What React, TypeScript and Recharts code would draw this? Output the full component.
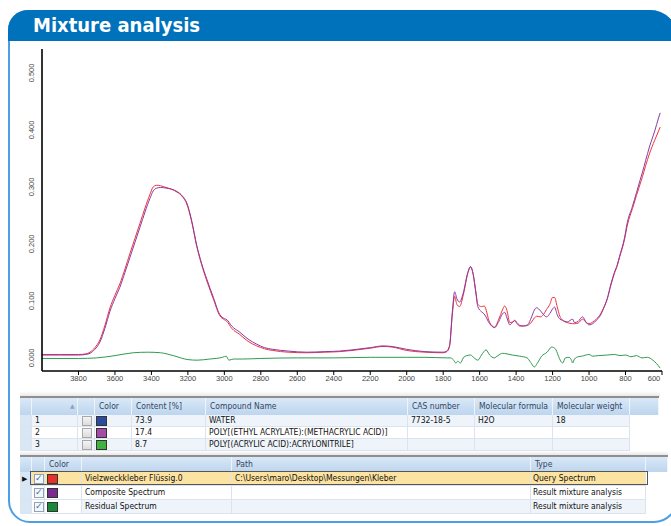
import React from 'react';
import { LineChart, Line, XAxis, YAxis } from 'recharts';

// ---------- DATA ----------
const mainWavenumbers = [4000,3900,3800,3760,3737,3710,3682,3655,3627,3600,3573,3545,3518,3490,3463,3435,3408,3390,3370,3350,3320,3290,3260,3230,3206,3180,3151,3125,3096,3060,3025,3000,2986,2960,2915,2870,2822,2780,2734,2650,2548,2450,2367,2300,2200,2130,2080,2000,1900,1800,1780,1765,1750,1737,1725,1710,1690,1665,1650,1635,1620,1610,1590,1575,1545,1518,1495,1475,1463,1450,1435,1420,1408,1395,1380,1360,1337,1315,1300,1288,1265,1250,1233,1215,1200,1189,1175,1160,1145,1120,1090,1080,1060,1036,1015,1000,980,960,943,920,900,880,861,845,833,806,790,762,740,720,707,690,669,640,619,610];

const compositeValues = [0.005,0.005,0.005,0.006,0.008,0.015,0.028,0.052,0.082,0.104,0.124,0.150,0.176,0.203,0.229,0.256,0.280,0.293,0.298,0.299,0.298,0.296,0.292,0.284,0.272,0.242,0.197,0.166,0.138,0.106,0.076,0.069,0.067,0.056,0.045,0.033,0.024,0.018,0.015,0.012,0.010,0.011,0.012,0.014,0.018,0.021,0.020,0.015,0.011,0.010,0.012,0.022,0.080,0.116,0.104,0.098,0.114,0.150,0.160,0.146,0.112,0.090,0.081,0.077,0.060,0.053,0.064,0.077,0.080,0.070,0.058,0.062,0.066,0.060,0.056,0.056,0.058,0.072,0.084,0.088,0.082,0.076,0.072,0.078,0.086,0.089,0.076,0.068,0.066,0.063,0.068,0.062,0.064,0.072,0.062,0.058,0.060,0.066,0.072,0.087,0.104,0.130,0.150,0.164,0.178,0.210,0.238,0.266,0.290,0.312,0.326,0.346,0.370,0.398,0.421,0.430];

const queryValues = [0.006,0.006,0.006,0.007,0.010,0.018,0.032,0.057,0.088,0.110,0.130,0.156,0.183,0.210,0.236,0.263,0.287,0.300,0.303,0.302,0.299,0.296,0.291,0.283,0.270,0.240,0.195,0.164,0.135,0.103,0.074,0.067,0.064,0.052,0.041,0.029,0.021,0.016,0.013,0.010,0.009,0.010,0.011,0.013,0.017,0.020,0.019,0.013,0.010,0.009,0.011,0.020,0.075,0.108,0.094,0.090,0.110,0.148,0.160,0.146,0.114,0.094,0.090,0.091,0.062,0.054,0.068,0.084,0.091,0.083,0.062,0.063,0.065,0.062,0.057,0.056,0.057,0.063,0.070,0.073,0.072,0.076,0.085,0.094,0.106,0.106,0.090,0.073,0.066,0.062,0.060,0.060,0.061,0.068,0.062,0.060,0.063,0.068,0.074,0.088,0.104,0.128,0.148,0.162,0.176,0.207,0.233,0.262,0.285,0.305,0.318,0.337,0.358,0.382,0.398,0.405];

const residualWavenumbers = [4000,3800,3700,3600,3500,3420,3350,3280,3200,3150,3080,3010,2990,2975,2950,2900,2800,2600,2400,2200,2000,1900,1780,1760,1745,1730,1720,1705,1690,1670,1650,1630,1610,1590,1565,1545,1520,1500,1475,1450,1420,1380,1340,1320,1300,1285,1260,1230,1205,1185,1170,1155,1145,1130,1110,1095,1090,1080,1060,1040,1000,980,950,900,860,830,800,770,740,710,680,650,630,610];
const residualValues = [-0.001,-0.001,0.000,0.004,0.009,0.010,0.009,0.004,-0.003,-0.004,-0.002,0.001,0.003,-0.004,-0.002,-0.002,-0.001,0.000,0.000,0.001,0.001,0.001,0.000,0.000,-0.003,-0.009,-0.006,-0.009,0.000,0.004,0.005,0.000,-0.004,0.005,0.014,0.005,0.000,0.004,0.008,0.007,0.005,0.003,0.000,-0.008,-0.016,-0.010,0.003,0.010,0.019,0.016,0.005,-0.006,-0.009,0.000,0.001,-0.005,-0.009,-0.002,0.002,0.003,0.006,0.003,0.004,0.005,0.006,0.004,0.005,0.002,0.004,0.000,0.001,-0.004,-0.010,-0.018];

const xTicks = [3800,3600,3400,3200,3000,2800,2600,2400,2200,2000,1800,1600,1400,1200,1000,800,600];
const yTicks = [0, 0.1, 0.2, 0.3, 0.4, 0.5];

const compoundRows = [
  { no: '1', color: '#2b4b9e', content: '73.9', name: 'WATER', cas: '7732-18-5', formula: 'H2O', weight: '18' },
  { no: '2', color: '#a64ca6', content: '17.4', name: 'POLY[(ETHYL ACRYLATE):(METHACRYLIC ACID)]', cas: '', formula: '', weight: '' },
  { no: '3', color: '#3db33d', content: '8.7', name: 'POLY[(ACRYLIC ACID):ACRYLONITRILE]', cas: '', formula: '', weight: '' },
];

const spectrumRows = [
  { color: '#e8302a', name: 'Vielzweckkleber Flüssig.0', path: 'C:\\Users\\maro\\Desktop\\Messungen\\Kleber', type: 'Query Spectrum' },
  { color: '#7b2a8f', name: 'Composite Spectrum', path: '', type: 'Result mixture analysis' },
  { color: '#1a8a3a', name: 'Residual Spectrum', path: '', type: 'Result mixture analysis' },
];

const querySeries = mainWavenumbers.map((wn, i) => ({ wn, v: queryValues[i] }));
const compositeSeries = mainWavenumbers.map((wn, i) => ({ wn, v: compositeValues[i] }));
const residualSeries = residualWavenumbers.map((wn, i) => ({ wn, v: residualValues[i] }));

const FONT = '"Liberation Sans Narrow", "Arial Narrow", "DejaVu Sans Condensed", "Liberation Sans", sans-serif';

const XTick = (props: any) => {
  const { x, y, payload } = props;
  const dx = payload.value === 600 ? -8 : 0;
  return (
    <text x={x + dx} y={y} dy="0.71em" textAnchor="middle" fontSize={7.5} fill="#444" fontFamily='"Liberation Sans", Arial, sans-serif'>
      {payload.value}
    </text>
  );
};

const YTick = (props: any) => {
  const { x, y, payload } = props;
  const tx = x - 2;
  return (
    <text x={tx} y={y} textAnchor="middle" fontSize={7.5} fill="#444" fontFamily='"Liberation Sans", Arial, sans-serif'
      transform={`rotate(-90 ${tx} ${y})`}>
      {payload.value.toFixed(3)}
    </text>
  );
};

type Col = { x: number; w: number; label: string };

const headerBg = 'linear-gradient(#d9e8f7, #bdd5ee)';
const cellText: React.CSSProperties = { fontFamily: FONT, fontSize: 8.5, color: '#111', whiteSpace: 'nowrap', overflow: 'hidden' };

const CheckBox = ({ checked }: { checked: boolean }) => (
  <div style={{ width: 8, height: 8, border: `1px solid ${checked ? '#8ea4bd' : '#a8a8a8'}`, background: checked ? '#f4f8fc' : 'linear-gradient(#f4f4f4,#dcdcdc)', position: 'relative' }}>
    {checked && <div style={{ position: 'absolute', left: 0, top: -3, fontSize: 9, color: '#4d6c9c', fontFamily: 'DejaVu Sans, sans-serif', lineHeight: '12px' }}>✓</div>}
  </div>
);

const Swatch = ({ color }: { color: string }) => (
  <div style={{ width: 9, height: 8, background: color, border: '1px solid #333' }} />
);

function Header({ cols, top, h }: { cols: Col[]; top: number; h: number }) {
  return (
    <>
      {cols.map((c, i) => (
        <div key={i} style={{ position: 'absolute', left: c.x, top, width: c.w - 1, height: h, background: headerBg, borderRight: '1px solid #eef4fb', ...cellText, color: '#33465e', lineHeight: `${h}px`, paddingLeft: 0 }}>
          <span style={{ paddingLeft: 4 }}>{c.label}</span>
        </div>
      ))}
    </>
  );
}

export default function App() {
  const t1Cols: Col[] = [
    { x: 20, w: 12, label: '' },
    { x: 32, w: 46, label: '' },
    { x: 78, w: 17, label: '' },
    { x: 95, w: 37, label: 'Color' },
    { x: 132, w: 74, label: 'Content [%]' },
    { x: 206, w: 202, label: 'Compound Name' },
    { x: 408, w: 67, label: 'CAS number' },
    { x: 475, w: 78, label: 'Molecular formula' },
    { x: 553, w: 77, label: 'Molecular weight' },
    { x: 630, w: 29, label: '' },
  ];
  const t2Cols: Col[] = [
    { x: 20, w: 12, label: '' },
    { x: 32, w: 13, label: '' },
    { x: 45, w: 37, label: 'Color' },
    { x: 82, w: 150, label: '' },
    { x: 232, w: 299, label: 'Path' },
    { x: 531, w: 115, label: 'Type' },
    { x: 646, w: 22, label: '' },
  ];
  const t1Top = 398, t1H = 17, rH1 = 12;
  const t2Top = 457, t2H = 15, rH2 = 14;

  return (
    <div style={{ position: 'absolute', left: 0, top: 0, width: 671, height: 526, overflow: 'hidden', background: '#fff' }}>
      {/* panel frame */}
      <div style={{ position: 'absolute', left: 8, top: 10, width: 670, height: 513, border: '2px solid #4d9fe3', borderRadius: '20px 28px 24px 22px', boxSizing: 'border-box' }} />
      {/* banner */}
      <div style={{ position: 'absolute', left: 8, top: 10, width: 670, height: 31, background: '#0071bb', borderRadius: '20px 28px 0 0' }}>
        <div style={{ position: 'absolute', left: 25, top: 2, fontFamily: FONT, fontWeight: 700, fontSize: 20, color: '#fff', letterSpacing: 0, lineHeight: '26px' }}>Mixture analysis</div>
      </div>

      {/* chart */}
      <div style={{ position: 'absolute', left: 0, top: 40 }}>
        <LineChart width={671} height={345} margin={{ top: 9, right: 9, left: 12, bottom: 0 }}>
          <XAxis type="number" dataKey="wn" domain={[600, 4000]} reversed ticks={xTicks} allowDataOverflow
            height={14} tick={<XTick />} tickSize={4} tickMargin={1} interval={0}
            axisLine={{ stroke: '#000', strokeWidth: 1.6 }} tickLine={{ stroke: '#000' }} />
          <YAxis type="number" dataKey="v" domain={[-0.023, 0.542]} ticks={yTicks} allowDataOverflow
            width={30} tick={<YTick />} tickLine={false} tickSize={3} tickMargin={3} interval={0}
            axisLine={{ stroke: '#000', strokeWidth: 1.6 }} />
          <Line data={querySeries} dataKey="v" type="monotone" stroke="#f0323c" strokeWidth={1} dot={false} isAnimationActive={false} />
          <Line data={compositeSeries} dataKey="v" type="monotone" stroke="#8a3aa2" strokeWidth={1} dot={false} isAnimationActive={false} />
          <Line data={residualSeries} dataKey="v" type="monotone" stroke="#2f9a50" strokeWidth={1} dot={false} isAnimationActive={false} />
        </LineChart>
      </div>

      {/* table 1 */}
      <div style={{ position: 'absolute', left: 20, top: 391, width: 640, height: 6, background: 'linear-gradient(#ffffff,#e6e6e6)' }} />
      <div style={{ position: 'absolute', left: 20, top: t1Top - 2, width: 639, height: 2, background: '#8f8f8f' }} />
      <Header cols={t1Cols} top={t1Top} h={t1H} />
      <div style={{ position: 'absolute', left: 70, top: t1Top + 4, fontSize: 6, color: '#8aa3c0', fontFamily: 'DejaVu Sans, sans-serif' }}>▲</div>
      {compoundRows.map((r, i) => {
        const top = t1Top + t1H + i * rH1;
        const bg = i % 2 === 0 ? '#eef4fa' : '#ffffff';
        const cells = [
          null,
          <span style={{ paddingLeft: 3 }}>{r.no}</span>,
          <div style={{ paddingLeft: 4, paddingTop: 1 }}><CheckBox checked={false} /></div>,
          <div style={{ paddingLeft: 1, paddingTop: 1 }}><Swatch color={r.color} /></div>,
          <span style={{ paddingLeft: 3 }}>{r.content}</span>,
          <span style={{ paddingLeft: 3 }}>{r.name}</span>,
          <span style={{ paddingLeft: 3 }}>{r.cas}</span>,
          <span style={{ paddingLeft: 3 }}>{r.formula}</span>,
          <span style={{ paddingLeft: 3 }}>{r.weight}</span>,
        ];
        return (
          <React.Fragment key={i}>
            {cells.map((c, j) => (
              <div key={j} style={{ position: 'absolute', left: t1Cols[j].x, top, width: t1Cols[j].w - 1, height: rH1 - 1, background: j === 0 ? '#d9e7f5' : bg, borderRight: '1px solid #dbe4ee', borderBottom: '1px solid #dbe4ee', ...cellText, lineHeight: `${rH1 - 1}px` }}>
                {c}
              </div>
            ))}
          </React.Fragment>
        );
      })}

      {/* table 2 */}
      <div style={{ position: 'absolute', left: 20, top: 451, width: 648, height: 4, background: 'linear-gradient(#ffffff,#e6e6e6)' }} />
      <div style={{ position: 'absolute', left: 20, top: t2Top - 2, width: 648, height: 2, background: '#8f8f8f' }} />
      <Header cols={t2Cols} top={t2Top} h={t2H} />
      {spectrumRows.map((r, i) => {
        const top = t2Top + t2H + i * rH2;
        const selected = i === 0;
        const bg = selected ? '#fde3a2' : i % 2 === 0 ? '#eef4fa' : '#ffffff';
        const cells = [
          selected ? <span style={{ paddingLeft: 2, fontSize: 7, fontFamily: 'DejaVu Sans, sans-serif' }}>▶</span> : null,
          <div style={{ paddingLeft: 2, paddingTop: 2 }}><CheckBox checked={true} /></div>,
          <div style={{ paddingLeft: 2, paddingTop: 2 }}><Swatch color={r.color} /></div>,
          <span style={{ paddingLeft: 3 }}>{r.name}</span>,
          <span style={{ paddingLeft: 3 }}>{r.path}</span>,
          <span style={{ paddingLeft: 2 }}>{r.type}</span>,
        ];
        return (
          <React.Fragment key={i}>
            {cells.map((c, j) => (
              <div key={j} style={{ position: 'absolute', left: t2Cols[j].x, top, width: t2Cols[j].w - 1, height: rH2 - 1, background: j === 0 ? '#d9e7f5' : (j === 1 || j === 2) && !selected ? '#ffffff' : bg, borderRight: '1px solid #dbe4ee', borderBottom: '1px solid #dbe4ee', ...cellText, lineHeight: `${rH2 - 1}px` }}>
                {c}
              </div>
            ))}
          </React.Fragment>
        );
      })}
      <div style={{ position: 'absolute', left: 30, top: t2Top + t2H - 1, width: 618, height: rH2, border: '1px solid #555', boxSizing: 'border-box' }} />
    </div>
  );
}
